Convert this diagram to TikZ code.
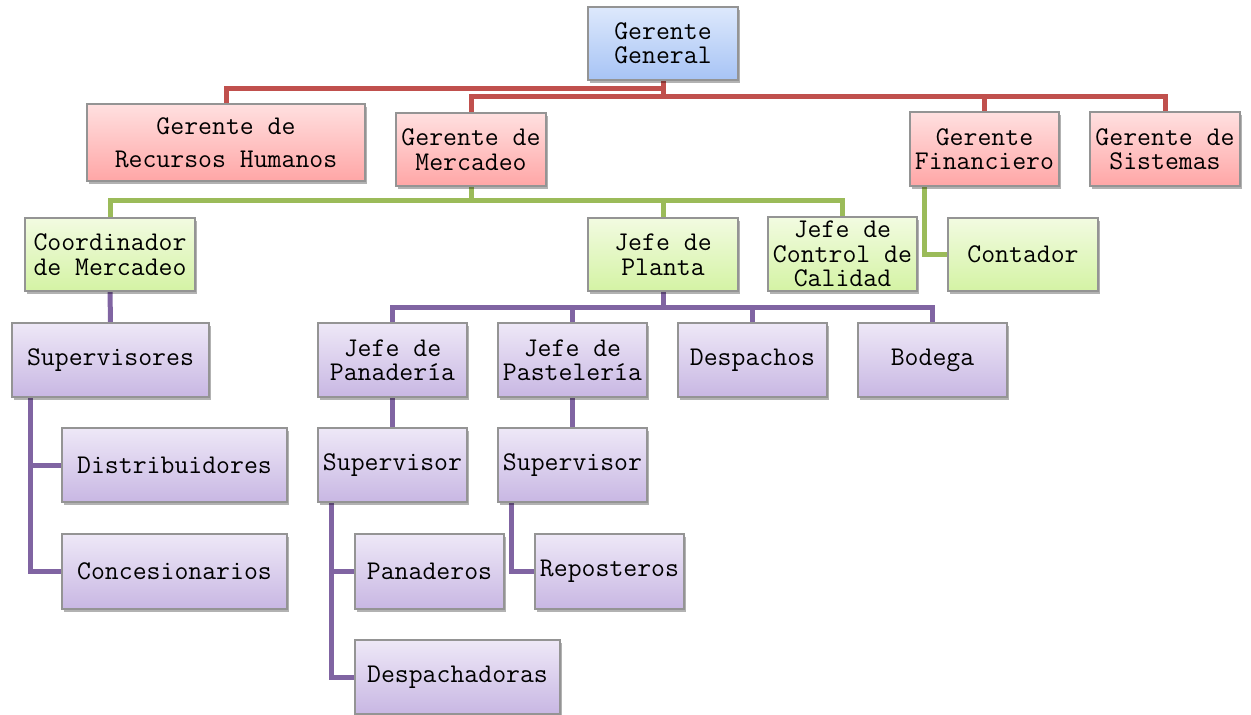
\documentclass[tikz,border=0pt]{standalone}
\usepackage{fontspec}
\usetikzlibrary{shadows}
\pgfdeclarelayer{bg}
\pgfsetlayers{bg,main}
\definecolor{redln}{HTML}{C0504D}
\definecolor{grnln}{HTML}{9BBB59}
\definecolor{purln}{HTML}{8064A2}
\definecolor{bluetop}{HTML}{DDE8FC}
\definecolor{bluebot}{HTML}{A7C4F5}
\definecolor{redtop}{HTML}{FFE0E0}
\definecolor{redbot}{HTML}{FFA6A6}
\definecolor{grntop}{HTML}{F2FBE1}
\definecolor{grnbot}{HTML}{D4F3A4}
\definecolor{purtop}{HTML}{EEE8F7}
\definecolor{purbot}{HTML}{C8B7E3}
\tikzset{
  box/.style={draw=black!42, line width=1.3pt, inner sep=0pt, align=center,
    font=\ttfamily\fontsize{27}{24.5}\selectfont,
    drop shadow={shadow xshift=2pt, shadow yshift=-3pt, opacity=0.3, fill=black}},
  bluebox/.style={box, top color=bluetop, bottom color=bluebot},
  redbox/.style={box, top color=redtop, bottom color=redbot},
  grnbox/.style={box, top color=grntop, bottom color=grnbot},
  purbox/.style={box, top color=purtop, bottom color=purbot},
  conn/.style={line width=5pt},
  rl/.style={conn, draw=redln},
  gl/.style={conn, draw=grnln},
  pl/.style={conn, draw=purln},
}
\newcommand\obox[7]{\node[#6, minimum width={#4pt-#2pt}, minimum height={#5pt-#3pt}]
  (#1) at ({(#2+#4)/2},{(#3+#5)/2}) {#7};}
\begin{document}
\begin{tikzpicture}[x=1pt,y=-1pt]
\useasboundingbox (0,0) rectangle (1251,715);
% level 0
\obox{gg}{588}{7}{738}{80}{bluebox}{Gerente\\General}
% level 1
\obox{rh}{87}{104}{365}{181}{redbox}{Gerente de\\[8pt]Recursos Humanos}
\obox{gm}{396}{113}{546}{186}{redbox}{Gerente de\\Mercadeo}
\obox{gf}{910}{112}{1059}{186}{redbox}{Gerente\\Financiero}
\obox{gs}{1090}{112}{1240}{186}{redbox}{Gerente de\\Sistemas}
% level 2
\obox{cm}{25}{218}{195}{291}{grnbox}{Coordinador\\de Mercadeo}
\obox{jp}{588}{218}{738}{291}{grnbox}{Jefe de\\Planta}
\obox{jc}{768}{217}{917}{291}{grnbox}{Jefe de\\Control de\\Calidad}
\obox{ct}{948}{218}{1098}{291}{grnbox}{Contador}
% level 3
\obox{sv}{12}{323}{209}{397}{purbox}{Supervisores}
\obox{jpan}{318}{323}{467}{397}{purbox}{Jefe de\\Panadería}
\obox{jpas}{498}{323}{647}{397}{purbox}{Jefe de\\Pastelería}
\obox{desp}{678}{323}{827}{397}{purbox}{Despachos}
\obox{bod}{858}{323}{1007}{397}{purbox}{Bodega}
% level 4
\obox{ds}{62}{428}{287}{502}{purbox}{Distribuidores}
\obox{cs}{62}{534}{287}{609}{purbox}{Concesionarios}
\obox{sup1}{318}{428}{467}{502}{purbox}{Supervisor}
\obox{sup2}{498}{428}{647}{502}{purbox}{Supervisor}
\obox{pan}{355}{534}{504}{609}{purbox}{Panaderos}
\obox{rep}{535}{534}{684}{609}{purbox}{Reposteros}
\obox{dch}{355}{640}{560}{714}{purbox}{Despachadoras}
% connectors
\coordinate (rb1) at (0,88);
\coordinate (rb2) at (0,96);
\coordinate (gb) at (0,200);
\coordinate (pb) at (0,307);
\begin{pgfonlayer}{bg}
\draw[rl] (gg.south) -- (gg.south|-rb1) -| (rh.north);
\draw[rl] (gg.south) -- (gg.south|-rb2) -| (gm.north);
\draw[rl] (gg.south) -- (gg.south|-rb2) -| (gf.north);
\draw[rl] (gg.south) -- (gg.south|-rb2) -| (gs.north);
\draw[gl] (gm.south) -- (gm.south|-gb) -| (cm.north);
\draw[gl] (gm.south) -- (gm.south|-gb) -| (jp.north);
\draw[gl] (gm.south) -- (gm.south|-gb) -| (jc.north);
\draw[gl] ([xshift=15pt]gf.south west) |- (ct.west);
\draw[pl] (cm.south) -- (sv.north);
\draw[pl] ([xshift=19pt]sv.south west) |- (ds.west);
\draw[pl] ([xshift=19pt]sv.south west) |- (cs.west);
\draw[pl] (jp.south) -- (jp.south|-pb) -| (jpan.north);
\draw[pl] (jp.south) -- (jp.south|-pb) -| (jpas.north);
\draw[pl] (jp.south) -- (jp.south|-pb) -| (desp.north);
\draw[pl] (jp.south) -- (jp.south|-pb) -| (bod.north);
\draw[pl] (jpan.south) -- (sup1.north);
\draw[pl] (jpas.south) -- (sup2.north);
\draw[pl] ([xshift=14pt]sup1.south west) |- (pan.west);
\draw[pl] ([xshift=14pt]sup1.south west) |- (dch.west);
\draw[pl] ([xshift=14pt]sup2.south west) |- (rep.west);
\end{pgfonlayer}
\end{tikzpicture}
\end{document}
